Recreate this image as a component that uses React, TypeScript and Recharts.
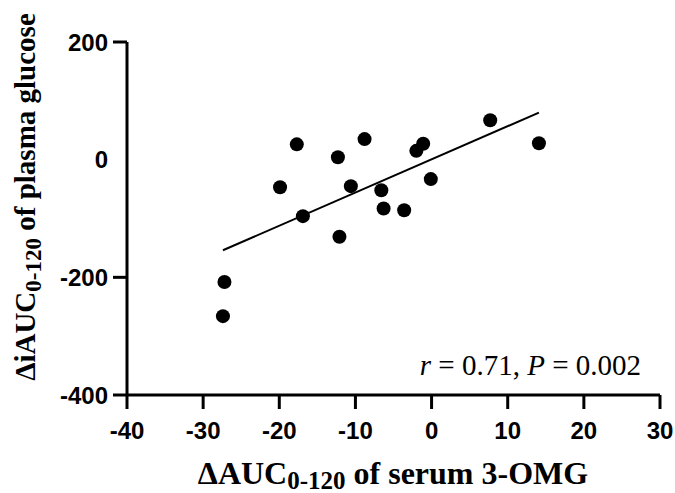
import React from 'react';
import { ScatterChart, Scatter, XAxis, YAxis, ReferenceLine, Label } from 'recharts';

// values
const omgChange = [-12.3, -8.8, -1.1, -2.0, 7.7, 14.1, -10.6, -6.6, -0.1, -6.3, -3.6, -12.1, -17.7, -19.9, -16.9, -27.2, -27.4];
const glucoseChange = [4, 35, 27, 15, 67, 28, -45, -52, -33, -83, -86, -131, 26, -47, -96, -208, -266];

const fitX = [-27.4, 14.1];
const fitY = [-154, 80];

const xTicks = [-40, -30, -20, -10, 0, 10, 20, 30];
const yTicks = [-400, -200, 0, 200];

const points = omgChange.map((x, i) => ({ x, y: glucoseChange[i] }));

const sans = '"Liberation Sans", Arial, sans-serif';
const serif = '"Liberation Serif", "Times New Roman", serif';

const Dot = (props: any) => <circle cx={props.cx} cy={props.cy} r={7} fill="#000" />;

// y ticks: no tick mark drawn at 0, as in the figure
const YTick = (props: any) => {
  const { x, y, payload } = props;
  return (
    <g>
      {payload.value !== 0 && (
        <line x1={x + 5} y1={y} x2={x + 19} y2={y} stroke="#000" strokeWidth={3} />
      )}
      <text x={x} y={y} dy="0.36em" textAnchor="end" fill="#000" fontSize={24} fontWeight="bold" fontFamily={sans}>
        {payload.value}
      </text>
    </g>
  );
};

const XTick = (props: any) => {
  const { x, y, payload } = props;
  return (
    <text x={x} y={y} dy="0.71em" textAnchor="middle" fill="#000" fontSize={24} fontWeight="bold" fontFamily={sans}>
      {payload.value}
    </text>
  );
};

const XTitle = () => (
  <g>
    <text x={393} y={484} textAnchor="middle" fill="#000" fontFamily={serif} fontWeight="bold" fontSize={32}>
      ΔAUC<tspan fontSize={25} dy={5}>0-120</tspan>
      <tspan dy={-5}> of serum 3-OMG</tspan>
    </text>
    <text x={641} y={375} textAnchor="end" fill="#000" fontFamily={serif} fontSize={29}>
      <tspan fontStyle="italic">r</tspan> = 0.71, <tspan fontStyle="italic">P</tspan> = 0.002
    </text>
  </g>
);

const YTitle = () => (
  <text x={35} y={197} transform="rotate(-90, 35, 197)" textAnchor="middle" fill="#000" fontFamily={serif} fontWeight="bold" fontSize={29}>
    ΔiAUC<tspan fontSize={23} dy={6}>0-120</tspan>
    <tspan dy={-6}> of plasma glucose</tspan>
  </text>
);

export default function App() {
  return (
    <div style={{ position: 'absolute', left: 0, top: 0, background: '#fff' }}>
      <ScatterChart width={675} height={493} margin={{ top: 42, right: 15, bottom: 0, left: 0 }}>
        <XAxis
          type="number"
          dataKey="x"
          domain={[-40, 30]}
          ticks={xTicks}
          height={98}
          axisLine={{ stroke: '#000', strokeWidth: 3 }}
          tickLine={{ stroke: '#000', strokeWidth: 3 }}
          tickSize={14}
          tickMargin={13}
          tick={<XTick />}
          interval={0}
        >
          <Label content={<XTitle />} />
        </XAxis>
        <YAxis
          type="number"
          dataKey="y"
          domain={[-400, 200]}
          ticks={yTicks}
          width={127}
          axisLine={{ stroke: '#000', strokeWidth: 3 }}
          tickLine={false}
          tickSize={14}
          tickMargin={5}
          tick={<YTick />}
          interval={0}
        >
          <Label content={<YTitle />} />
        </YAxis>
        <ReferenceLine
          segment={[{ x: fitX[0], y: fitY[0] }, { x: fitX[1], y: fitY[1] }]}
          stroke="#000"
          strokeWidth={2}
        />
        <Scatter data={points} fill="#000" shape={<Dot />} isAnimationActive={false} />
      </ScatterChart>
    </div>
  );
}
